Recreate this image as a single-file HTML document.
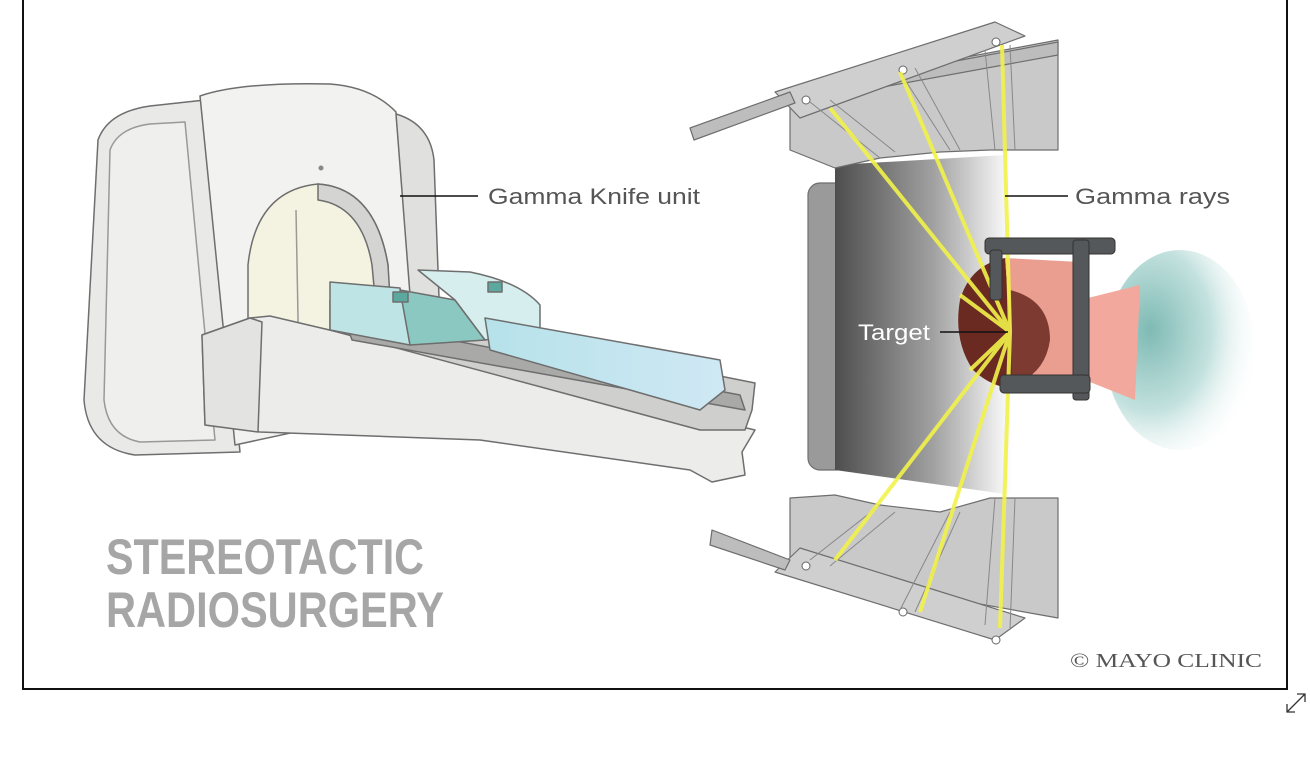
<!DOCTYPE html>
<html><head><meta charset="utf-8"><style>
html,body{margin:0;padding:0;background:#fff;}
svg{display:block;}
</style></head><body>
<svg width="1310" height="757" viewBox="0 0 1310 757" xmlns="http://www.w3.org/2000/svg">
<defs>
<linearGradient id="dk" x1="0" x2="1" y1="0" y2="0">
<stop offset="0" stop-color="#4e4e4e"/><stop offset="0.55" stop-color="#a0a0a0"/><stop offset="1" stop-color="#ffffff"/>
</linearGradient>
<radialGradient id="sh" cx="0.3" cy="0.4" r="0.75">
<stop offset="0" stop-color="#7fbab4"/><stop offset="0.55" stop-color="#c4e2df"/><stop offset="1" stop-color="#ffffff" stop-opacity="0"/>
</radialGradient>
<linearGradient id="bed" x1="0" x2="1"><stop offset="0" stop-color="#b6e2ea"/><stop offset="1" stop-color="#cfe8f4"/></linearGradient>
</defs>
<rect x="0" y="0" width="1310" height="757" fill="#fff"/>
<path d="M23,0 V689 H1287 V0" fill="none" stroke="#111" stroke-width="2"/>

<g stroke="#6e6e6e" stroke-width="1.5" stroke-linejoin="round">
<path d="M98,140 Q108,112 150,106 L205,100 L240,452 L135,455 Q88,448 84,400 Z" fill="#e9e9e8"/>
<path d="M110,150 Q118,128 150,124 L185,122 L215,440 L140,442 Q108,436 104,400 Z" fill="#efefee" stroke="#999"/>
<path d="M200,96 Q240,82 330,84 Q372,87 396,112 L420,405 L235,445 Z" fill="#f2f2f1"/>
<path d="M396,114 Q430,124 434,160 L442,380 L418,398 Z" fill="#e0e0de"/>
<path d="M248,425 L248,265 Q256,190 318,184 Q375,188 388,265 L392,420 Z" fill="#f4f3e2"/>
<path d="M318,184 Q375,188 388,265 L392,330 L378,330 L372,265 Q362,206 318,200 Z" fill="#d4d4d2"/>
<line x1="296" y1="210" x2="300" y2="425" stroke="#999"/>
<circle cx="321" cy="168" r="2.5" fill="#888" stroke="none"/>
<path d="M202,335 L250,318 L270,316 L755,430 L742,452 L745,475 L712,482 L690,470 L480,440 L260,432 L205,425 Z" fill="#ececeb"/>
<path d="M202,335 L250,318 L262,322 L258,432 L205,425 Z" fill="#e3e3e2"/>
<path d="M330,300 L340,300 L755,383 L752,410 L745,430 L700,430 L330,330 Z" fill="#cfcfcd"/>
<path d="M345,320 L740,395 L745,410 L352,340 Z" fill="#a9a9a8"/>
<path d="M330,282 L400,288 L410,345 L330,330 Z" fill="#bfe4e6"/>
<path d="M400,290 L455,300 L485,340 L410,345 Z" fill="#8cc8c2"/>
<path d="M418,270 L470,272 Q520,282 540,305 L540,330 L485,340 L455,300 Z" fill="#d6eeee"/>
<path d="M485,318 L720,360 L725,390 L700,410 L490,350 Z" fill="url(#bed)"/>
<rect x="393" y="292" width="15" height="10" fill="#5aa89e"/>
<rect x="488" y="282" width="14" height="10" fill="#5aa89e"/>
</g>
<line x1="400" y1="196" x2="478" y2="196" stroke="#111" stroke-width="1.5"/>
<text x="488" y="204" font-family="Liberation Sans, sans-serif" font-size="22" fill="#555" textLength="212" lengthAdjust="spacingAndGlyphs">Gamma Knife unit</text>

<g stroke="#6e6e6e" stroke-width="1.2" stroke-linejoin="round">
<rect x="808" y="183" width="40" height="287" rx="12" fill="#9a9a9a"/>
<path d="M835,165 L1005,155 L1012,495 L835,470 Z" fill="url(#dk)" stroke="none"/>
<path d="M790,90 L1058,40 L1058,150 L990,150 L940,152 L880,158 L835,168 L790,150 Z" fill="#c9c9c9"/>
<path d="M790,92 L1058,42 L1058,55 L790,104 Z" fill="#bdbdbd"/>
<path d="M775,92 L995,22 L1025,36 L800,118 Z" fill="#cfcfcf"/>
<path d="M690,128 L790,92 L795,103 L694,140 Z" fill="#bdbdbd"/>
<path d="M790,498 L835,495 L880,505 L940,512 L990,498 L1058,498 L1058,618 L790,570 Z" fill="#c9c9c9"/>
<path d="M775,572 L800,548 L1025,618 L995,640 Z" fill="#cfcfcf"/>
<path d="M712,530 L790,560 L785,570 L710,545 Z" fill="#bdbdbd"/>
</g>
<g fill="#fff" stroke="#666">
<circle cx="806" cy="100" r="4"/><circle cx="903" cy="70" r="4"/><circle cx="996" cy="42" r="4"/>
<circle cx="806" cy="566" r="4"/><circle cx="903" cy="612" r="4"/><circle cx="996" cy="640" r="4"/>
</g>
<g stroke="#888" stroke-width="1">
<line x1="810" y1="102" x2="880" y2="158"/><line x1="830" y1="100" x2="895" y2="152"/>
<line x1="900" y1="72" x2="950" y2="150"/><line x1="915" y1="68" x2="960" y2="150"/>
<line x1="985" y1="50" x2="995" y2="150"/><line x1="1010" y1="45" x2="1015" y2="150"/>
<line x1="810" y1="560" x2="880" y2="505"/><line x1="830" y1="566" x2="895" y2="512"/>
<line x1="900" y1="610" x2="950" y2="512"/><line x1="915" y1="612" x2="960" y2="512"/>
<line x1="985" y1="625" x2="995" y2="498"/><line x1="1010" y1="630" x2="1015" y2="498"/>
</g>
<ellipse cx="1180" cy="350" rx="75" ry="100" fill="url(#sh)"/>
<path d="M1080,300 L1140,285 L1135,400 L1085,380 Z" fill="#f2a89c"/>
<path d="M1005,258 Q970,265 960,300 Q953,340 973,370 Q995,390 1015,387 Z" fill="#6a2a22"/>
<path d="M1005,258 L1080,262 L1085,380 L1015,387 Z" fill="#e99e90"/>
<path d="M1010,290 Q1050,300 1050,340 Q1045,375 1012,385 Z" fill="#7c3a30"/>
<g stroke="#f2f24a" stroke-width="4" opacity="0.9">
<line x1="1010" y1="332" x2="830" y2="108"/>
<line x1="1010" y1="332" x2="900" y2="72"/>
<line x1="1010" y1="332" x2="1002" y2="45"/>
<line x1="1010" y1="332" x2="835" y2="560"/>
<line x1="1010" y1="332" x2="920" y2="612"/>
<line x1="1010" y1="332" x2="1000" y2="628"/>
<line x1="1010" y1="332" x2="960" y2="295"/>
<line x1="1010" y1="332" x2="970" y2="370"/>
</g>
<g fill="#55585a" stroke="#333" stroke-width="1">
<rect x="985" y="238" width="130" height="16" rx="4"/>
<rect x="1073" y="240" width="16" height="160" rx="3"/>
<rect x="1000" y="375" width="90" height="18" rx="4"/>
<rect x="990" y="250" width="12" height="50" rx="3"/>
</g>
<line x1="1005" y1="196" x2="1068" y2="196" stroke="#111" stroke-width="1.5"/>
<text x="1075" y="204" font-family="Liberation Sans, sans-serif" font-size="22" fill="#555" textLength="155" lengthAdjust="spacingAndGlyphs">Gamma rays</text>
<line x1="940" y1="332" x2="1008" y2="332" stroke="#111" stroke-width="1.5"/>
<text x="858" y="340" font-family="Liberation Sans, sans-serif" font-size="22" fill="#fff" textLength="72" lengthAdjust="spacingAndGlyphs">Target</text>

<text x="106" y="574" font-family="Liberation Sans, sans-serif" font-size="50" font-weight="bold" fill="#a6a6a6" textLength="318" lengthAdjust="spacingAndGlyphs">STEREOTACTIC</text>
<text x="106" y="627" font-family="Liberation Sans, sans-serif" font-size="50" font-weight="bold" fill="#a6a6a6" textLength="338" lengthAdjust="spacingAndGlyphs">RADIOSURGERY</text>
<text x="1070" y="667" font-family="Liberation Serif, serif" font-size="20" fill="#555" textLength="192" lengthAdjust="spacingAndGlyphs">© MAYO CLINIC</text>

<path d="M1287,712 L1305,694 M1297,694 H1305 V702 M1287,704 V712 H1295" stroke="#333" stroke-width="1.3" fill="none"/>
</svg>
</body></html>
